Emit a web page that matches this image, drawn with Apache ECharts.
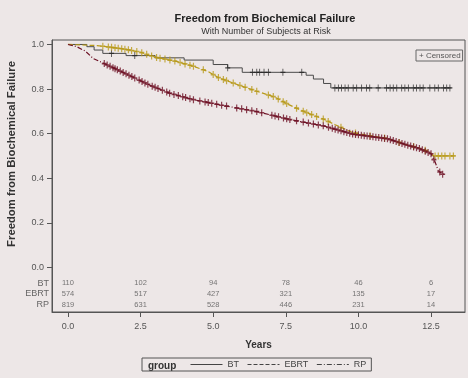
<!DOCTYPE html>
<html><head><meta charset="utf-8">
<script src="https://cdn.jsdelivr.net/npm/echarts@6/dist/echarts.min.js"></script>
<style>html,body{margin:0;padding:0;background:#ede7e7}#c{width:468px;height:378px}</style>
</head><body><div id="c"></div>
<script>
// ---------- data ----------
const groups = ['BT', 'EBRT', 'RP'];
const xTicks = [0, 2.5, 5, 7.5, 10, 12.5];
const yTicks = [0, 0.2, 0.4, 0.6, 0.8, 1.0];

const btCurve = [[0,1],[0.65,0.99],[0.9,0.975],[1.2,0.96],[2.0,0.95],[3.0,0.94],[4.0,0.93],[5.0,0.91],[5.5,0.895],[6.0,0.875],[8.2,0.862],[8.45,0.845],[8.8,0.825],[9.05,0.805],[13.2,0.805]];
const ebrtCurve = [[0,1],[1.0,0.995],[1.5,0.987],[2.0,0.978],[2.5,0.965],[3.0,0.943],[3.7,0.925],[4.3,0.903],[4.8,0.88],[5.2,0.85],[5.9,0.817],[6.5,0.79],[7.1,0.765],[7.6,0.73],[8.2,0.695],[8.8,0.665],[9.2,0.64],[9.8,0.605],[10.5,0.588],[11.0,0.578],[11.6,0.552],[12.1,0.535],[12.45,0.518],[12.6,0.5],[13.3,0.5]];
const rpCurve = [[0,1],[0.3,0.99],[0.6,0.97],[0.87,0.937],[1.22,0.916],[2.02,0.867],[2.82,0.817],[3.51,0.781],[4.3,0.753],[5.35,0.726],[6.5,0.699],[7.64,0.663],[8.79,0.635],[9.8,0.598],[11.0,0.577],[11.7,0.548],[12.1,0.533],[12.5,0.51],[12.65,0.47],[12.75,0.433],[12.9,0.418],[13.0,0.418]];

const btCensor = [1.5,2.3,5.5,6.35,6.5,6.6,6.75,6.9,7.4,8.05,9.19,9.31,9.42,9.54,9.65,9.82,9.94,10.11,10.28,10.39,10.68,10.97,11.09,11.2,11.32,11.49,11.6,11.72,11.89,12.0,12.12,12.23,12.46,12.63,12.75,12.93,13.04,13.15];
const ebrtCensor = [1.2,1.39,1.5,1.62,1.73,1.85,1.96,2.08,2.19,2.37,2.54,2.71,2.88,3.05,3.17,3.34,3.51,3.68,3.86,4.03,4.2,4.32,4.66,5.0,5.18,5.35,5.46,5.69,5.92,6.1,6.33,6.5,6.9,7.07,7.24,7.41,7.53,7.87,8.1,8.22,8.39,8.56,8.79,8.96,9.4,9.9,10.4,10.9,11.4,11.9,12.3,12.64,12.75,12.87,12.98,13.15,13.27];
const rpCensor = [1.25,1.35,1.45,1.55,1.62,1.7,1.8,1.9,2.0,2.1,2.2,2.3,2.45,2.55,2.65,2.75,2.9,3.0,3.1,3.25,3.4,3.5,3.65,3.8,3.95,4.05,4.2,4.32,4.54,4.72,4.83,4.95,5.12,5.29,5.46,5.81,5.98,6.15,6.33,6.5,6.67,7.02,7.13,7.25,7.42,7.53,7.64,7.87,8.1,8.28,8.45,8.62,8.79,8.97,9.1,9.2,9.3,9.4,9.5,9.6,9.7,9.8,9.9,10.0,10.1,10.2,10.3,10.4,10.5,10.6,10.7,10.8,10.9,11.0,11.1,11.2,11.3,11.4,11.5,11.6,11.7,11.8,11.9,12.0,12.1,12.2,12.3,12.4,12.5,12.6,12.8,12.9];

const atRiskBT = [110,102,94,78,46,6];
const atRiskEBRT = [574,517,427,321,135,17];
const atRiskRP = [819,631,528,446,231,14];

// ---------- helpers ----------
function survStep(curve, t){ let v = curve[0][1]; for (const p of curve){ if (p[0] <= t) v = p[1]; } return v; }
function survLin(curve, t){
  for (let i = 1; i < curve.length; i++){
    const a = curve[i-1], b = curve[i];
    if (t <= b[0]) return a[1] + (b[1]-a[1]) * (t - a[0]) / (b[0] - a[0]);
  }
  return curve[curve.length-1][1];
}

const FONT = 'Liberation Sans';
const X_MIN = -0.55, X_MAX = 13.67;
const colBT = '#4a4a4a', colEBRT = '#b89a1a', colRP = '#6e1226';
const plus = 'path://M5,0V10M0,5H10';
const rowY = [-0.07, -0.119, -0.168];
const atRisk = [atRiskBT, atRiskEBRT, atRiskRP];

const censorSeries = (name, times, curve, fn, color, bw) => ({
  type: 'scatter', name: name, silent: true, z: 4,
  symbol: plus, symbolSize: [5, 7],
  itemStyle: { color: 'rgba(0,0,0,0)', borderColor: color, borderWidth: bw },
  data: times.map(t => [t, fn(curve, t)])
});

const atRiskData = [];
atRisk.forEach((row, r) => row.forEach((n, i) => atRiskData.push([xTicks[i], rowY[r], n])));

const option = {
  backgroundColor: '#ede7e7',
  animation: false,
  textStyle: { fontFamily: FONT },
  grid: { left: 52, right: 3, top: 40, bottom: 66, show: true, borderColor: '#555', borderWidth: 1, backgroundColor: 'transparent' },
  xAxis: {
    type: 'value', min: X_MIN, max: X_MAX,
    axisLine: { show: true, onZero: false, lineStyle: { color: '#555' } },
    axisTick: { show: true, length: 5, customValues: xTicks, lineStyle: { color: '#555' } },
    axisLabel: { customValues: xTicks, formatter: v => v.toFixed(1), margin: 10, fontSize: 9, color: '#555', fontFamily: FONT },
    splitLine: { show: false },
    name: 'Years', nameLocation: 'middle', nameGap: 28,
    nameTextStyle: { fontWeight: 'bold', fontSize: 10, color: '#333', fontFamily: FONT }
  },
  yAxis: {
    type: 'value', min: -0.2, max: 1.02,
    axisLine: { show: true, onZero: false, lineStyle: { color: '#555' } },
    axisTick: { show: true, length: 5, customValues: yTicks, lineStyle: { color: '#555' } },
    axisLabel: { customValues: yTicks, formatter: v => v.toFixed(1), margin: 8, fontSize: 9, color: '#555', fontFamily: FONT },
    splitLine: { show: false }
  },
  legend: {
    data: groups, left: 142, top: 358, orient: 'horizontal',
    padding: [2, 5, 2, 48], itemGap: 8, itemWidth: 32, itemHeight: 10,
    borderColor: '#555', borderWidth: 1,
    textStyle: { fontSize: 9, color: '#444', fontFamily: FONT },
    lineStyle: { color: '#444', width: 1 },
    itemStyle: { opacity: 0 },
    selectedMode: false
  },
  graphic: [
    { type: 'text', x: 265, y: 19, style: { text: 'Freedom from Biochemical Failure', font: 'bold 11px ' + FONT, fill: '#222', align: 'center', verticalAlign: 'middle' } },
    { type: 'text', x: 266, y: 32, style: { text: 'With Number of Subjects at Risk', font: '9px ' + FONT, fill: '#333', align: 'center', verticalAlign: 'middle' } },
    { type: 'text', x: 12, y: 154, rotation: Math.PI / 2, style: { text: 'Freedom from Biochemical Failure', font: 'bold 11.3px ' + FONT, fill: '#333', align: 'center', verticalAlign: 'middle' } },
    { type: 'text', x: 148, y: 366, style: { text: 'group', font: 'bold 10px ' + FONT, fill: '#333', align: 'left', verticalAlign: 'middle' } },
    { type: 'text', x: 416, y: 50, style: { text: '+ Censored', font: '8px ' + FONT, fill: '#555', borderColor: '#666', borderWidth: 1, padding: [2, 2, 1, 3] } }
  ],
  series: [
    { type: 'line', name: 'BT', data: btCurve, step: 'end', symbol: 'none', z: 3, silent: true,
      lineStyle: { color: colBT, width: 1, type: 'solid' }, itemStyle: { color: colBT } },
    { type: 'line', name: 'EBRT', data: ebrtCurve, symbol: 'none', z: 3, silent: true,
      lineStyle: { color: colEBRT, width: 1.2, type: 'dashed' }, itemStyle: { color: colEBRT } },
    { type: 'line', name: 'RP', data: rpCurve, symbol: 'none', z: 3, silent: true,
      lineStyle: { color: colRP, width: 1.2, type: [5, 2, 1, 2] }, itemStyle: { color: colRP } },
    censorSeries('BT censored', btCensor, btCurve, survStep, '#222', 1),
    censorSeries('EBRT censored', ebrtCensor, ebrtCurve, survLin, colEBRT, 1.4),
    censorSeries('RP censored', rpCensor, rpCurve, survLin, colRP, 1.4),
    { type: 'scatter', name: 'at risk', silent: true, symbolSize: 0, data: atRiskData,
      label: { show: true, position: 'inside', formatter: p => String(p.value[2]), fontSize: 7.5, color: '#555', fontFamily: FONT } },
    { type: 'scatter', name: 'row labels', silent: true, symbolSize: 0, clip: false,
      data: groups.map((g, r) => ({ value: [X_MIN, rowY[r]], name: g })),
      label: { show: true, position: 'left', distance: 3, formatter: p => p.name, fontSize: 9, color: '#444', fontFamily: FONT } }
  ]
};
echarts.init(document.getElementById('c'), null, { renderer: 'canvas' }).setOption(option);
</script>
</body></html>
